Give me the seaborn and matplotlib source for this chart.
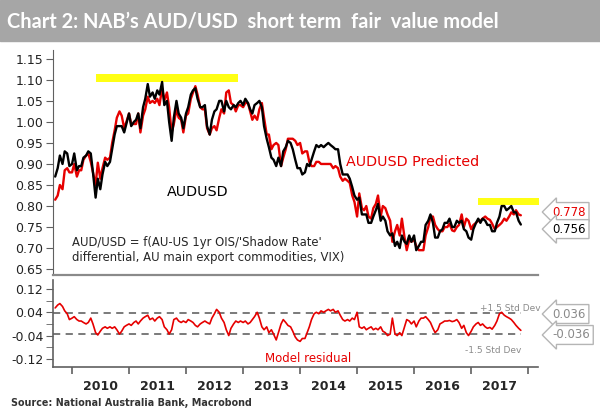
import pandas as pd
import seaborn as sns
import matplotlib.pyplot as plt
import matplotlib.dates as mdates
from matplotlib.patches import Rectangle
from matplotlib.ticker import FixedLocator, FormatStrFormatter, NullFormatter

# semi-monthly readings (1st and 15th), Sep-2009 .. Nov-2017
audusd = [
    0.87, 0.89, 0.92, 0.90, 0.93, 0.925, 0.895,  # 2009
    0.90, 0.925, 0.885, 0.895, 0.895, 0.915, 0.92, 0.93, 0.925, 0.88, 0.82, 0.865,
    0.84, 0.875, 0.905, 0.895, 0.905, 0.935, 0.97, 0.99, 0.99, 0.99, 0.975, 0.995,  # 2010
    1.02, 0.99, 1.00, 1.005, 1.02, 0.985, 1.035, 1.055, 1.09, 1.06, 1.07, 1.055,
    1.075, 1.065, 1.095, 1.04, 1.05, 1.00, 0.955, 1.01, 1.05, 1.02, 1.01, 0.985,  # 2011
    1.02, 1.035, 1.065, 1.075, 1.08, 1.055, 1.035, 1.035, 1.04, 0.99, 0.97, 1.005,
    1.025, 1.03, 1.05, 1.05, 1.025, 1.05, 1.035, 1.03, 1.04, 1.035, 1.045, 1.05,  # 2012
    1.04, 1.055, 1.045, 1.03, 1.02, 1.04, 1.045, 1.05, 1.035, 0.99, 0.96, 0.94,
    0.915, 0.91, 0.895, 0.915, 0.895, 0.93, 0.94, 0.955, 0.95, 0.935, 0.91, 0.89,  # 2013
    0.89, 0.875, 0.88, 0.90, 0.895, 0.91, 0.93, 0.945, 0.94, 0.945, 0.94, 0.945,
    0.95, 0.945, 0.94, 0.935, 0.935, 0.90, 0.875, 0.875, 0.875, 0.865, 0.845, 0.825,  # 2014
    0.815, 0.82, 0.78, 0.78, 0.78, 0.76, 0.76, 0.775, 0.79, 0.805, 0.765, 0.775,
    0.765, 0.74, 0.73, 0.735, 0.705, 0.715, 0.70, 0.73, 0.715, 0.71, 0.73, 0.715,  # 2015
    0.73, 0.695, 0.705, 0.715, 0.715, 0.755, 0.765, 0.78, 0.76, 0.725, 0.725, 0.74,
    0.745, 0.76, 0.76, 0.77, 0.75, 0.75, 0.765, 0.76, 0.765, 0.745, 0.74, 0.725,  # 2016
    0.72, 0.745, 0.76, 0.77, 0.76, 0.77, 0.765, 0.755, 0.755, 0.74, 0.74, 0.76,
    0.775, 0.80, 0.80, 0.79, 0.795, 0.80, 0.785, 0.785, 0.765, 0.756,  # 2017
]
predicted = [
    0.815, 0.825, 0.85, 0.84, 0.885, 0.89, 0.88,
    0.88, 0.90, 0.87, 0.885, 0.885, 0.91, 0.92, 0.925, 0.905, 0.88, 0.85, 0.903,
    0.865, 0.89, 0.915, 0.91, 0.915, 0.95, 0.98, 1.01, 1.025, 1.015, 0.985, 1.00,
    1.02, 0.995, 0.995, 0.995, 1.02, 0.975, 1.015, 1.03, 1.06, 1.045, 1.05, 1.045,
    1.055, 1.04, 1.08, 1.05, 1.07, 1.035, 0.975, 0.995, 1.03, 1.01, 1.005, 0.975,
    1.015, 1.02, 1.055, 1.07, 1.085, 1.065, 1.035, 1.03, 1.03, 0.985, 0.97, 0.985,
    0.99, 0.98, 1.01, 1.03, 1.02, 1.07, 1.075, 1.045, 1.04, 1.025, 1.04, 1.04,
    1.035, 1.045, 1.045, 1.025, 1.005, 1.015, 1.005, 1.03, 1.045, 1.01, 0.97, 0.97,
    0.935, 0.945, 0.95, 0.945, 0.895, 0.915, 0.935, 0.96, 0.96, 0.96, 0.955, 0.945,
    0.95, 0.925, 0.93, 0.93, 0.905, 0.895, 0.895, 0.905, 0.905, 0.90, 0.90, 0.90,
    0.90, 0.90, 0.89, 0.895, 0.89, 0.87, 0.86, 0.865, 0.86, 0.855, 0.825, 0.81,
    0.775, 0.83, 0.795, 0.79, 0.80, 0.775, 0.77, 0.795, 0.805, 0.825, 0.775, 0.80,
    0.795, 0.78, 0.765, 0.715, 0.74, 0.755, 0.73, 0.77, 0.725, 0.695, 0.72, 0.715,
    0.72, 0.705, 0.695, 0.695, 0.695, 0.73, 0.75, 0.775, 0.775, 0.755, 0.745, 0.74,
    0.74, 0.75, 0.75, 0.758, 0.742, 0.74, 0.75, 0.755, 0.78, 0.75, 0.77, 0.765,
    0.745, 0.755, 0.76, 0.765, 0.765, 0.77, 0.775, 0.77, 0.767, 0.758, 0.745, 0.75,
    0.755, 0.76, 0.77, 0.765, 0.775, 0.785, 0.78, 0.79, 0.78, 0.778,
]
residual = [
    0.055, 0.065, 0.07, 0.06, 0.045, 0.035, 0.015,
    0.02, 0.025, 0.015, 0.01, 0.01, 0.005, 0.0, 0.005, 0.02, 0.0, -0.03, -0.038,
    -0.025, -0.015, -0.01, -0.015, -0.01, -0.015, -0.01, -0.02, -0.035, -0.025, -0.01, -0.005,
    0.0, -0.005, 0.005, 0.01, 0.0, 0.01, 0.02, 0.025, 0.03, 0.015, 0.02, 0.01,
    0.02, 0.025, 0.015, -0.01, -0.02, -0.035, -0.02, 0.015, 0.02, 0.01, 0.005, 0.01,
    0.005, 0.015, 0.01, 0.005, -0.005, -0.01, 0.0, 0.005, 0.01, 0.005, 0.0, 0.02,
    0.035, 0.05, 0.04, 0.02, 0.005, -0.02, -0.04, -0.015, 0.0, 0.01, 0.005, 0.01,
    0.005, 0.01, 0.0, 0.005, 0.015, 0.025, 0.04, 0.02, -0.01, -0.02, -0.01, -0.03,
    -0.02, -0.035, -0.055, -0.03, 0.0, 0.015, 0.005, -0.005, -0.01, -0.025, -0.045, -0.055,
    -0.06, -0.05, -0.05, -0.03, -0.01, 0.015, 0.035, 0.04, 0.035, 0.045, 0.04, 0.045,
    0.05, 0.045, 0.05, 0.04, 0.045, 0.03, 0.015, 0.01, 0.015, 0.01, 0.02, 0.015,
    0.04, -0.01, -0.015, -0.01, -0.02, -0.015, -0.01, -0.02, -0.015, -0.02, -0.01, -0.025,
    -0.03, -0.04, -0.035, 0.02, -0.035, -0.04, -0.03, -0.04, -0.01, 0.015, 0.01, 0.0,
    0.01, -0.01, 0.01, 0.02, 0.02, 0.025, 0.015, 0.005, -0.015, -0.03, -0.02, 0.0,
    0.005, 0.01, 0.01, 0.012, 0.008, 0.01, 0.015, 0.005, -0.015, -0.005, -0.03, -0.04,
    -0.025, -0.01, 0.0, 0.005, -0.005, 0.0, -0.01, -0.015, -0.012, -0.018, -0.005, 0.01,
    0.035, 0.04, 0.03, 0.025, 0.02, 0.015, 0.005, -0.005, -0.015, -0.022,
]
std_band = 0.036
last_actual = 0.756
last_pred = 0.778

dates = pd.date_range('2009-09-15', periods=len(audusd), freq='SMS')
df = pd.DataFrame({'date': dates, 'actual': audusd,
                   'pred': predicted, 'resid': residual})

sns.set_style('white')
plt.rcParams['font.family'] = ['DejaVu Sans']
plt.rcParams['axes.unicode_minus'] = False

RED = '#e60000'
AX_COL = '#606060'

fig = plt.figure(figsize=(6, 4.11), dpi=100)
W, H = 600, 411
ax1 = fig.add_axes([53 / W, 1 - 275 / H, 485 / W, 225 / H])
ax2 = fig.add_axes([53 / W, 1 - 367 / H, 485 / W, 87 / H])

# title band
fig.add_artist(Rectangle((0, 1 - 41 / H), 1, 41 / H, transform=fig.transFigure,
                         color='#a6a6a6', zorder=0))
fig.text(7 / W, 1 - 21 / H, "Chart 2: NAB\u2019s AUD/USD  short term  fair  value model",
         color='white', fontsize=14.4, fontweight='bold', va='center', family='Lato')

xmin, xmax = pd.Timestamp('2009-09-01'), pd.Timestamp('2018-03-05')

# top panel
sns.lineplot(data=df, x='date', y='pred', ax=ax1, color=RED, lw=1.7)
sns.lineplot(data=df, x='date', y='actual', ax=ax1, color='black', lw=1.7)
ax1.fill_between([pd.Timestamp('2010-06-03'), pd.Timestamp('2012-11-28')], 1.095, 1.114,
                 color='#ffff14', lw=0)
ax1.fill_between([pd.Timestamp('2017-02-12'), pd.Timestamp('2018-03-10')], 0.802, 0.819,
                 color='#ffff14', lw=0, clip_on=False)
ax1.set_xlim(xmin, xmax)
ax1.set_ylim(0.636, 1.171)
ax1.yaxis.set_major_locator(FixedLocator([0.65 + 0.05 * i for i in range(11)]))
ax1.yaxis.set_major_formatter(FormatStrFormatter('%.2f'))
ax1.set_xticks([])
ax1.set_xlabel('')
ax1.set_ylabel('')
for s in ['top', 'right']:
    ax1.spines[s].set_visible(False)
ax1.spines['left'].set_color(AX_COL)
ax1.spines['bottom'].set_color('#8a8a8a')
ax1.spines['bottom'].set_linewidth(1.6)
ax1.tick_params(axis='y', direction='out', length=5, color=AX_COL, left=True,
                labelsize=9, labelcolor='#222222', pad=2)

ax1.text(0.604, 0.502, 'AUDUSD Predicted', transform=ax1.transAxes, color=RED,
         fontsize=10.3, va='center')
ax1.text(0.235, 0.369, 'AUDUSD', transform=ax1.transAxes, color='black',
         fontsize=10.3, va='center')
ax1.text(0.039, 0.111, "AUD/USD = f(AU-US 1yr OIS/'Shadow Rate'\n"
         "differential, AU main export commodities, VIX)",
         transform=ax1.transAxes, fontsize=8.4, va='center', linespacing=1.25)

box = dict(boxstyle='larrow,pad=0.25', fc='white', ec='#b5b5b5', lw=1)
ax1.text(1.03, 0.28, f'{last_pred:.3f}', transform=ax1.transAxes, color=RED,
         fontsize=8.5, va='center', bbox=box, clip_on=False)
ax1.text(1.03, 0.204, f'{last_actual:.3f}', transform=ax1.transAxes, color='black',
         fontsize=8.5, va='center', bbox=box, clip_on=False)

# residual panel
ax2.hlines([std_band, -std_band], xmin, df['date'].iloc[-1], colors='#707070',
           linestyles=(0, (4, 3)), lw=1.3)
sns.lineplot(data=df, x='date', y='resid', ax=ax2, color=RED, lw=1.2)
ax2.set_xlim(xmin, xmax)
ax2.set_ylim(-0.148, 0.151)
ax2.yaxis.set_major_locator(FixedLocator([-0.12, -0.04, 0.04, 0.12]))
ax2.yaxis.set_minor_locator(FixedLocator([-0.08, 0.0, 0.08]))
ax2.yaxis.set_major_formatter(FormatStrFormatter('%.2f'))
ax2.xaxis.set_major_locator(mdates.YearLocator())
ax2.xaxis.set_major_formatter(NullFormatter())
ax2.xaxis.set_minor_locator(mdates.MonthLocator(bymonth=7))
ax2.xaxis.set_minor_formatter(mdates.DateFormatter('%Y'))
ax2.set_xlabel('')
ax2.set_ylabel('')
for s in ['top', 'right']:
    ax2.spines[s].set_visible(False)
for s in ['left', 'bottom']:
    ax2.spines[s].set_color(AX_COL)
    ax2.spines[s].set_linewidth(1.2)
ax2.tick_params(axis='y', which='both', direction='out', length=5, color=AX_COL,
                left=True, labelsize=9, labelcolor='#222222', pad=2)
ax2.tick_params(axis='x', which='major', direction='out', length=5, color=AX_COL,
                bottom=True, width=1.2)
ax2.tick_params(axis='x', which='minor', length=0, labelsize=9, pad=9)
for lab in ax2.get_xticklabels(minor=True):
    lab.set_fontweight('bold')

ax2.text(0.88, 0.678, '+1.5 Std Dev', transform=ax2.transAxes, color='#8a8a8a',
         fontsize=6.5, va='center')
ax2.text(0.849, 0.184, '-1.5 Std Dev', transform=ax2.transAxes, color='#8a8a8a',
         fontsize=6.5, va='center')
ax2.text(0.437, 0.103, 'Model residual', transform=ax2.transAxes, color=RED,
         fontsize=8.5, va='center')
box2 = dict(boxstyle='larrow,pad=0.25', fc='white', ec='#b5b5b5', lw=1)
ax2.text(1.03, 0.609, f'{std_band:.3f}', transform=ax2.transAxes, color='#8a8a8a',
         fontsize=8.5, va='center', bbox=box2, clip_on=False)
ax2.text(1.03, 0.368, f'{-std_band:.3f}', transform=ax2.transAxes, color='#8a8a8a',
         fontsize=8.5, va='center', bbox=box2, clip_on=False)

fig.text(11 / W, 1 - 403 / H, 'Source: National Australia Bank, Macrobond',
         fontsize=6.9, fontweight='bold', color='#333333', va='center')

fig.savefig('out.png', dpi=100)
